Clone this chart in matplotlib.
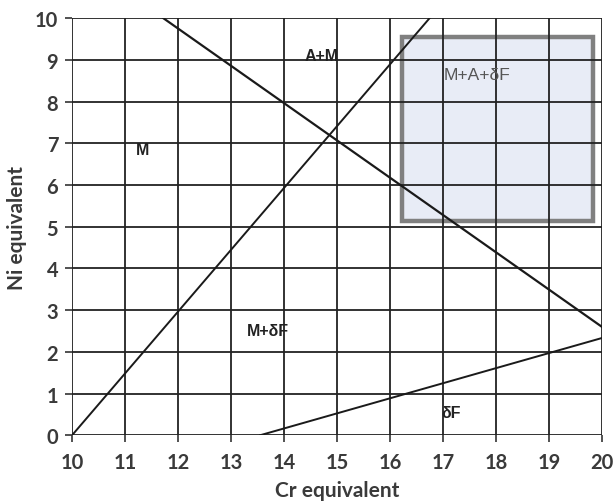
import numpy as np
import matplotlib.pyplot as plt
from matplotlib.patches import Rectangle

# boundary lines (Cr eq, Ni eq)
upper_x = [11.72, 20.0]
upper_y = [10.0, 2.6]
rising_x = [10.0, 16.75]
rising_y = [0.0, 10.0]
lower_x = [13.55, 20.0]
lower_y = [0.0, 2.33]

# shaded region M+A+dF
box_cr = [16.23, 19.83]
box_ni = [5.13, 9.54]

region_labels = ["A+M", "M", "M+δF", "δF"]
region_cr = [14.72, 11.34, 13.7, 17.15]
region_ni = [9.1, 6.85, 2.5, 0.55]

xticks = list(range(10, 21))
yticks = list(range(0, 11))

fig = plt.figure(figsize=(6.16, 5.02), dpi=100)
ax = fig.add_axes([0.117, 0.131, 0.860, 0.831])

ax.add_patch(Rectangle((box_cr[0], box_ni[0]), box_cr[1] - box_cr[0], box_ni[1] - box_ni[0],
                       facecolor='#e8ecf6', edgecolor='#808080', linewidth=3.2, zorder=1))

ax.set_xlim(10, 20)
ax.set_ylim(0, 10)
ax.set_xticks(xticks)
ax.set_yticks(yticks)
ax.grid(True, color='#222222', linewidth=1.3, zorder=2)
ax.set_axisbelow(False)
for s in ax.spines.values():
    s.set_visible(False)

ax.plot(upper_x, upper_y, color='#1a1a1a', lw=1.6, zorder=3)
ax.plot(rising_x, rising_y, color='#1a1a1a', lw=1.4, zorder=3)
ax.plot(lower_x, lower_y, color='#1a1a1a', lw=1.4, zorder=3)

for lab, cx, cy in zip(region_labels, region_cr, region_ni):
    ax.text(cx, cy, lab, ha='center', va='center', fontsize=11.5, fontweight='bold',
            family='Liberation Sans', color='#222222', zorder=4)
ax.text(17.65, 8.65, "M+A+δF", ha='center', va='center', fontsize=12.5,
        family='Liberation Sans', color='#555555', zorder=4)

ax.tick_params(axis='both', length=5, width=1.2, color='#333333', labelsize=14.5,
               labelcolor='#3a3a3a')
ax.tick_params(axis='x', pad=7)
ax.tick_params(axis='y', pad=5)
for t in ax.get_xticklabels() + ax.get_yticklabels():
    t.set_fontfamily('Lato')
    t.set_fontweight('bold')

ax.set_xlabel("Cr equivalent", fontsize=15, fontweight='bold', family='Lato', color='#3a3a3a', labelpad=6)
ax.set_ylabel("Ni equivalent", fontsize=15, fontweight='bold', family='Lato', color='#3a3a3a', labelpad=6)

fig.savefig("out.png", dpi=100)
